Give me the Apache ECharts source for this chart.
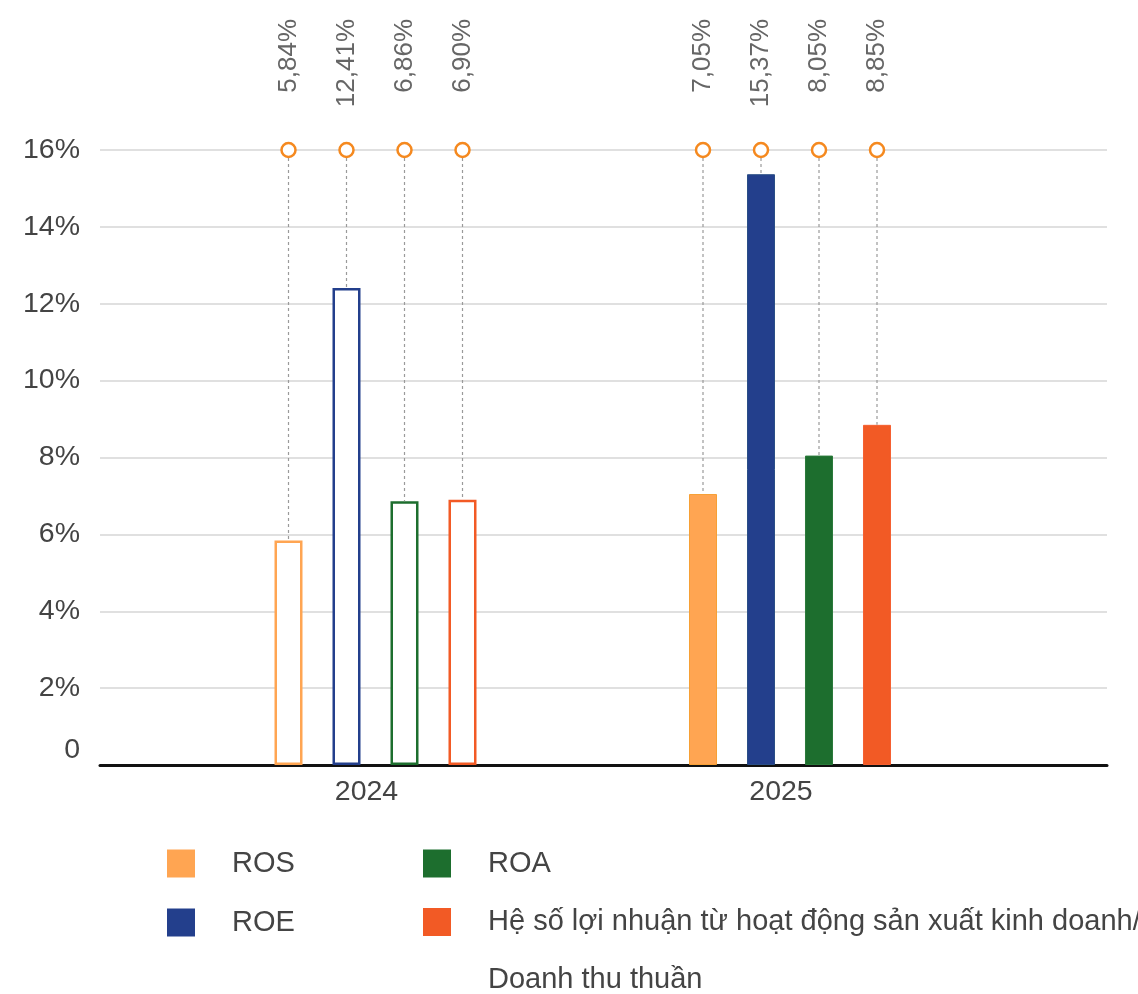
<!DOCTYPE html>
<html>
<head>
<meta charset="utf-8">
<script src="https://cdn.jsdelivr.net/npm/echarts@6/dist/echarts.min.js"></script>
<style>
  html, body { margin: 0; padding: 0; background: #fff; }
  #chart { width: 1138px; height: 994px; }
</style>
</head>
<body>
<div id="chart"></div>
<script>
// Profitability ratios by year (percent)
const years = ['2024', '2025'];
const ros = [5.84, 7.05];
const roe = [12.41, 15.37];
const roa = [6.86, 8.05];
const opMargin = [6.90, 8.85];
const yTicks = [0, 2, 4, 6, 8, 10, 12, 14, 16];

const names = ['ROS', 'ROE', 'ROA', 'Hệ số lợi nhuận từ hoạt động sản xuất kinh doanh/Doanh thu thuần'];
const colors = ['#FFA552', '#233F8C', '#1D6E2E', '#F25A25'];
const borders = ['#F7A035', '#2A4E86', '#2A7A3A', '#F56030'];
const valueSets = [ros, roe, roa, opMargin];

const FONT = '"Liberation Sans", Arial, sans-serif';
const AXIS_FS = 28.5;
const LEGEND_FS = 29;
const BAR_W = 28;
const BAR_STEP = 58;
const Y_MAX = yTicks[yTicks.length - 1];

function fmtPct(v) {
  return v.toFixed(2).replace('.', ',') + '%';
}

function barSeries(k) {
  return {
    type: 'bar',
    name: names[k],
    xAxisIndex: 1,
    yAxisIndex: 1,
    barWidth: BAR_W,
    barGap: ((BAR_STEP - BAR_W) / BAR_W * 100).toFixed(2) + '%',
    itemStyle: { color: colors[k], borderColor: borders[k], borderWidth: 1 },
    data: valueSets[k].map((v, i) => (
      i === 0
        ? { value: v, itemStyle: { color: '#ffffff', borderColor: colors[k], borderWidth: 2.5 } }
        : { value: v }
    )),
    z: 2
  };
}

// Guide line, top marker and rotated value text above each bar
function markerSeries(k) {
  return {
    type: 'custom',
    name: names[k],
    xAxisIndex: 1,
    yAxisIndex: 1,
    silent: true,
    z: 3,
    data: valueSets[k].map((v, i) => [i, v]),
    renderItem(params, api) {
      const off = (k - 1.5) * BAR_STEP;
      const top = api.coord([api.value(0), Y_MAX]);
      const bar = api.coord([api.value(0), api.value(1)]);
      const x = top[0] + off;
      return {
        type: 'group',
        children: [
          {
            type: 'line',
            shape: { x1: x, y1: top[1] + 8, x2: x, y2: bar[1] },
            style: { stroke: '#9a9a9a', lineWidth: 1.2, lineDash: [3, 3] }
          },
          {
            type: 'circle',
            shape: { cx: x, cy: top[1], r: 7 },
            style: { fill: '#ffffff', stroke: '#F5891F', lineWidth: 2.5 }
          },
          {
            type: 'text',
            x: x,
            y: top[1] - 131,
            rotation: Math.PI / 2,
            style: {
              text: fmtPct(api.value(1)),
              align: 'right',
              verticalAlign: 'middle',
              fill: '#666666',
              font: '26px ' + FONT
            }
          }
        ]
      };
    }
  };
}

function legendFor(k, left, top, extra) {
  return Object.assign({
    data: [names[k]],
    left: left,
    top: top,
    padding: 0,
    icon: 'rect',
    itemWidth: 28,
    itemHeight: 28,
    selectedMode: false,
    itemStyle: { borderWidth: 0 },
    textStyle: {
      fontFamily: FONT,
      fontSize: LEGEND_FS,
      color: '#444444',
      lineHeight: 28,
      padding: [0, 0, 0, 32]
    }
  }, extra || {});
}

const chart = echarts.init(document.getElementById('chart'), null, { renderer: 'canvas' });

chart.setOption({
  animation: false,
  backgroundColor: '#ffffff',
  grid: [
    { left: 100, right: 31, top: 150, bottom: 229 },
    { left: 168.25, right: 140.75, top: 150, bottom: 229 }
  ],
  xAxis: [
    {
      gridIndex: 0,
      type: 'category',
      data: [''],
      axisLine: { lineStyle: { color: '#111111', width: 3 } },
      axisTick: { show: false },
      axisLabel: { show: false },
      splitLine: { show: false }
    },
    {
      gridIndex: 1,
      type: 'category',
      data: years,
      axisLine: { show: false },
      axisTick: { show: false },
      splitLine: { show: false },
      axisLabel: {
        margin: 12,
        formatter: v => '{y|' + v + '}',
        rich: {
          y: { fontFamily: FONT, fontSize: AXIS_FS, color: '#444444', lineHeight: 30, padding: [0, 18, 0, 0] }
        }
      }
    }
  ],
  yAxis: [
    {
      gridIndex: 0,
      type: 'value',
      min: 0,
      max: Y_MAX,
      interval: 2,
      axisLine: { show: false },
      axisTick: { show: false },
      splitLine: { lineStyle: { color: '#d6d6d6', width: 1.5 } },
      axisLabel: {
        margin: 20,
        formatter: v => (v === 0 ? '{z|0}' : '{n|' + v + '%}'),
        rich: {
          n: { fontFamily: FONT, fontSize: AXIS_FS, color: '#444444' },
          z: { fontFamily: FONT, fontSize: AXIS_FS, color: '#444444', padding: [0, 0, 30, 0] }
        }
      }
    },
    {
      gridIndex: 1,
      type: 'value',
      min: 0,
      max: Y_MAX,
      interval: 2,
      show: false,
      splitLine: { show: false }
    }
  ],
  legend: [
    legendFor(0, 167, 849),
    legendFor(2, 423, 849),
    legendFor(1, 167, 908),
    // long name wraps after the slash; the blank first line keeps the
    // first text line level with the swatch
    legendFor(3, 423, 835, {
      formatter: n => '\n' + n.replace('/', '/\n'),
      textStyle: {
        fontFamily: FONT,
        fontSize: LEGEND_FS,
        color: '#444444',
        lineHeight: 58,
        padding: [0, 0, 0, 32]
      }
    })
  ],
  series: [
    barSeries(0), barSeries(1), barSeries(2), barSeries(3),
    markerSeries(0), markerSeries(1), markerSeries(2), markerSeries(3)
  ]
});
</script>
</body>
</html>
